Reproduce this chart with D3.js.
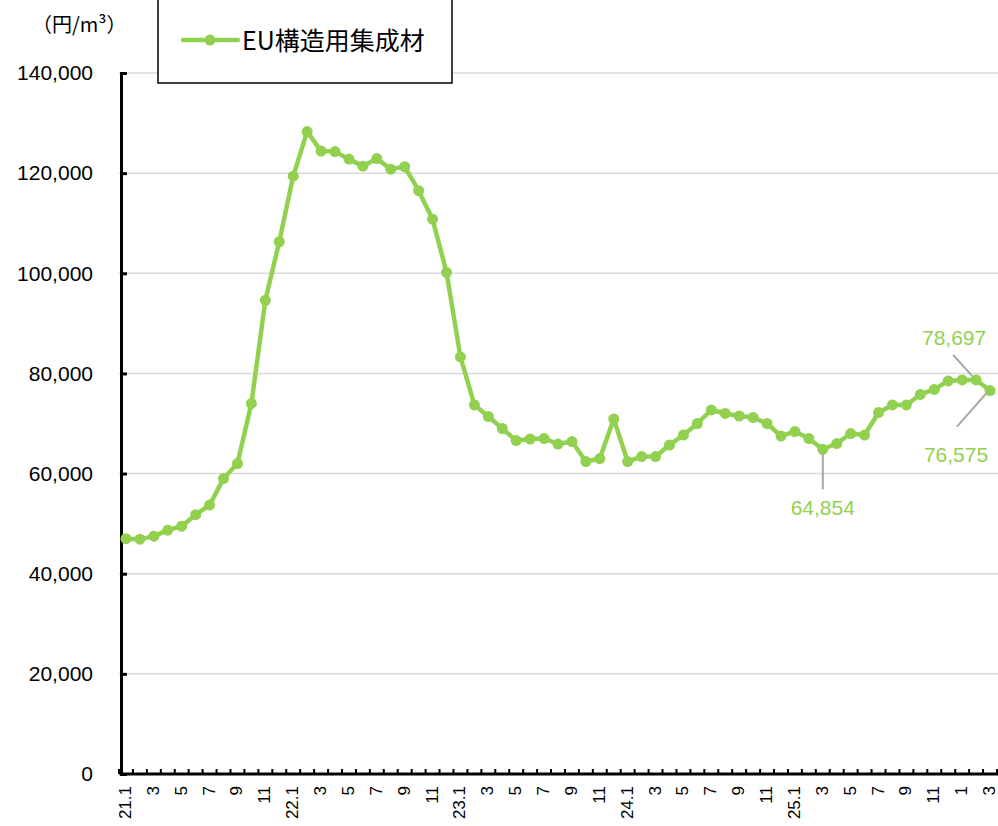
<!DOCTYPE html>
<html>
<head>
<meta charset="utf-8">
<script src="https://cdn.jsdelivr.net/npm/d3@7"></script>
<style>
  body { margin: 0; background: #fff; }
  svg { display: block; }
</style>
</head>
<body>
<script>
// 月 (21.1 - 26.3)
let months = [
  '2021-01','2021-02','2021-03','2021-04','2021-05','2021-06','2021-07','2021-08','2021-09','2021-10','2021-11','2021-12',
  '2022-01','2022-02','2022-03','2022-04','2022-05','2022-06','2022-07','2022-08','2022-09','2022-10','2022-11','2022-12',
  '2023-01','2023-02','2023-03','2023-04','2023-05','2023-06','2023-07','2023-08','2023-09','2023-10','2023-11','2023-12',
  '2024-01','2024-02','2024-03','2024-04','2024-05','2024-06','2024-07','2024-08','2024-09','2024-10','2024-11','2024-12',
  '2025-01','2025-02','2025-03','2025-04','2025-05','2025-06','2025-07','2025-08','2025-09','2025-10','2025-11','2025-12',
  '2026-01','2026-02','2026-03'
];

// EU構造用集成材 (円/m3)
let prices = [
  47000, 46900, 47500, 48700, 49500, 51800, 53700, 59000, 62000, 74000, 94600, 106300,
  119400, 128300, 124400, 124300, 122800, 121400, 122900, 120800, 121300, 116500, 110800, 100200,
  83300, 73700, 71400, 69000, 66600, 66900, 67000, 65900, 66400, 62400, 63000, 70900,
  62400, 63400, 63400, 65700, 67700, 70000, 72700, 72000, 71500, 71200, 70000, 67500,
  68400, 67000, 64854, 66000, 68000, 67700, 72200, 73700, 73700, 75800, 76800, 78500,
  78700, 78697, 76575
];

// x axis labels, shown on every other month
let tickLabels = {
  '2021-01': '21.1', '2021-03': '3', '2021-05': '5', '2021-07': '7', '2021-09': '9', '2021-11': '11',
  '2022-01': '22.1', '2022-03': '3', '2022-05': '5', '2022-07': '7', '2022-09': '9', '2022-11': '11',
  '2023-01': '23.1', '2023-03': '3', '2023-05': '5', '2023-07': '7', '2023-09': '9', '2023-11': '11',
  '2024-01': '24.1', '2024-03': '3', '2024-05': '5', '2024-07': '7', '2024-09': '9', '2024-11': '11',
  '2025-01': '25.1', '2025-03': '3', '2025-05': '5', '2025-07': '7', '2025-09': '9', '2025-11': '11',
  '2026-01': '1', '2026-03': '3'
};

let yTicks = [0, 20000, 40000, 60000, 80000, 100000, 120000, 140000];

// labelled points
let callouts = ['2025-03', '2026-02', '2026-03'];

let seriesName = 'EU構造用集成材';
let unitLabel = '（円/m³）';

let green = '#92D050';
let width = 998;
let height = 826;

let margin = { left: 119, right: 1, top: 73, bottom: 52 };

let data = months.map(function (m, i) {
  return { month: m, price: prices[i] };
});

let x = d3.scaleBand()
  .domain(months)
  .range([margin.left, width - margin.right]);

let y = d3.scaleLinear()
  .domain([0, 140000])
  .range([height - margin.bottom, margin.top]);

let cx = function (m) { return x(m) + x.bandwidth() / 2; };

let svg = d3.select('body')
  .append('svg')
  .attr('width', width)
  .attr('height', height);

// gridlines
svg.append('g')
  .selectAll('line')
  .data(yTicks.slice(1))
  .enter().append('line')
  .attr('x1', margin.left)
  .attr('x2', width)
  .attr('y1', function (d) { return y(d); })
  .attr('y2', function (d) { return y(d); })
  .attr('stroke', '#d9d9d9')
  .attr('stroke-width', 1.5);

// y axis
let yAxis = d3.axisLeft(y)
  .tickValues(yTicks)
  .tickSize(-6)
  .tickPadding(28)
  .tickFormat(d3.format(','));

let yG = svg.append('g')
  .attr('transform', 'translate(' + (margin.left + 2) + ',0)')
  .call(yAxis);
yG.select('.domain').attr('stroke', '#000').attr('stroke-width', 3);
yG.selectAll('.tick line').attr('stroke', '#000').attr('stroke-width', 3);
yG.selectAll('.tick text')
  .attr('font-family', 'Liberation Sans, Arial, sans-serif')
  .attr('font-size', 21)
  .attr('fill', '#000');

// x axis (ticks between categories)
let xBase = y(0);
let boundaries = months.map(function (m) { return x(m); });
boundaries.push(x(months[months.length - 1]) + x.bandwidth());

svg.append('g')
  .selectAll('line')
  .data(boundaries)
  .enter().append('line')
  .attr('x1', function (d) { return d; })
  .attr('x2', function (d) { return d; })
  .attr('y1', xBase)
  .attr('y2', xBase - 5)
  .attr('stroke', '#000')
  .attr('stroke-width', 2);

svg.append('line')
  .attr('x1', margin.left + 0.5)
  .attr('x2', width)
  .attr('y1', xBase)
  .attr('y2', xBase)
  .attr('stroke', '#000')
  .attr('stroke-width', 3);

svg.append('g')
  .selectAll('text')
  .data(months.filter(function (m) { return tickLabels[m]; }))
  .enter().append('text')
  .attr('transform', function (m) {
    return 'translate(' + (cx(m) + 5) + ',' + (xBase + 12) + ') rotate(-90)';
  })
  .attr('text-anchor', 'end')
  .attr('font-family', 'Liberation Sans, Arial, sans-serif')
  .attr('font-size', 17)
  .text(function (m) { return tickLabels[m]; });

// line + markers
let line = d3.line()
  .x(function (d) { return cx(d.month); })
  .y(function (d) { return y(d.price); });

svg.append('path')
  .attr('d', line(data))
  .attr('fill', 'none')
  .attr('stroke', green)
  .attr('stroke-width', 4.5)
  .attr('stroke-linejoin', 'round');

svg.append('g')
  .selectAll('circle')
  .data(data)
  .enter().append('circle')
  .attr('cx', function (d) { return cx(d.month); })
  .attr('cy', function (d) { return y(d.price); })
  .attr('r', 5.5)
  .attr('fill', green);

// callouts with leader lines
let calloutStyle = {
  '2025-03': { lx: 0, ly: 59, l1: [0, 4], l2: [0, 40] },
  '2026-02': { lx: -22, ly: -42, l1: [-4, -4], l2: [-23, -25] },
  '2026-03': { lx: -34, ly: 64, l1: [-4, 3], l2: [-33, 36] }
};

let co = svg.append('g');
callouts.forEach(function (m) {
  let d = data[months.indexOf(m)];
  let px = cx(m);
  let py = y(d.price);
  let s = calloutStyle[m];
  co.append('line')
    .attr('x1', px + s.l1[0])
    .attr('y1', py + s.l1[1])
    .attr('x2', px + s.l2[0])
    .attr('y2', py + s.l2[1])
    .attr('stroke', '#a6a6a6')
    .attr('stroke-width', 2);
  co.append('text')
    .attr('x', px + s.lx)
    .attr('y', py + s.ly + 7)
    .attr('text-anchor', 'middle')
    .attr('font-family', 'Liberation Sans, Arial, sans-serif')
    .attr('font-size', 21)
    .attr('fill', green)
    .text(d3.format(',')(d.price));
});

// unit label
svg.append('text')
  .attr('x', 32)
  .attr('y', 32)
  .attr('font-family', 'Noto Sans CJK JP, sans-serif')
  .attr('font-size', 20)
  .text(unitLabel);

// legend
let legend = svg.append('g');
legend.append('rect')
  .attr('x', 158)
  .attr('y', -10)
  .attr('width', 294)
  .attr('height', 93)
  .attr('fill', '#fff')
  .attr('stroke', '#000')
  .attr('stroke-width', 1.5);
legend.append('line')
  .attr('x1', 183).attr('x2', 238)
  .attr('y1', 40).attr('y2', 40)
  .attr('stroke', green)
  .attr('stroke-width', 4.5)
  .attr('stroke-linecap', 'round');
legend.append('circle')
  .attr('cx', 210).attr('cy', 40).attr('r', 5.5)
  .attr('fill', green);
legend.append('text')
  .attr('x', 242)
  .attr('y', 50)
  .attr('font-family', 'Noto Sans CJK JP, sans-serif')
  .attr('font-size', 25)
  .text(seriesName);
</script>
</body>
</html>
